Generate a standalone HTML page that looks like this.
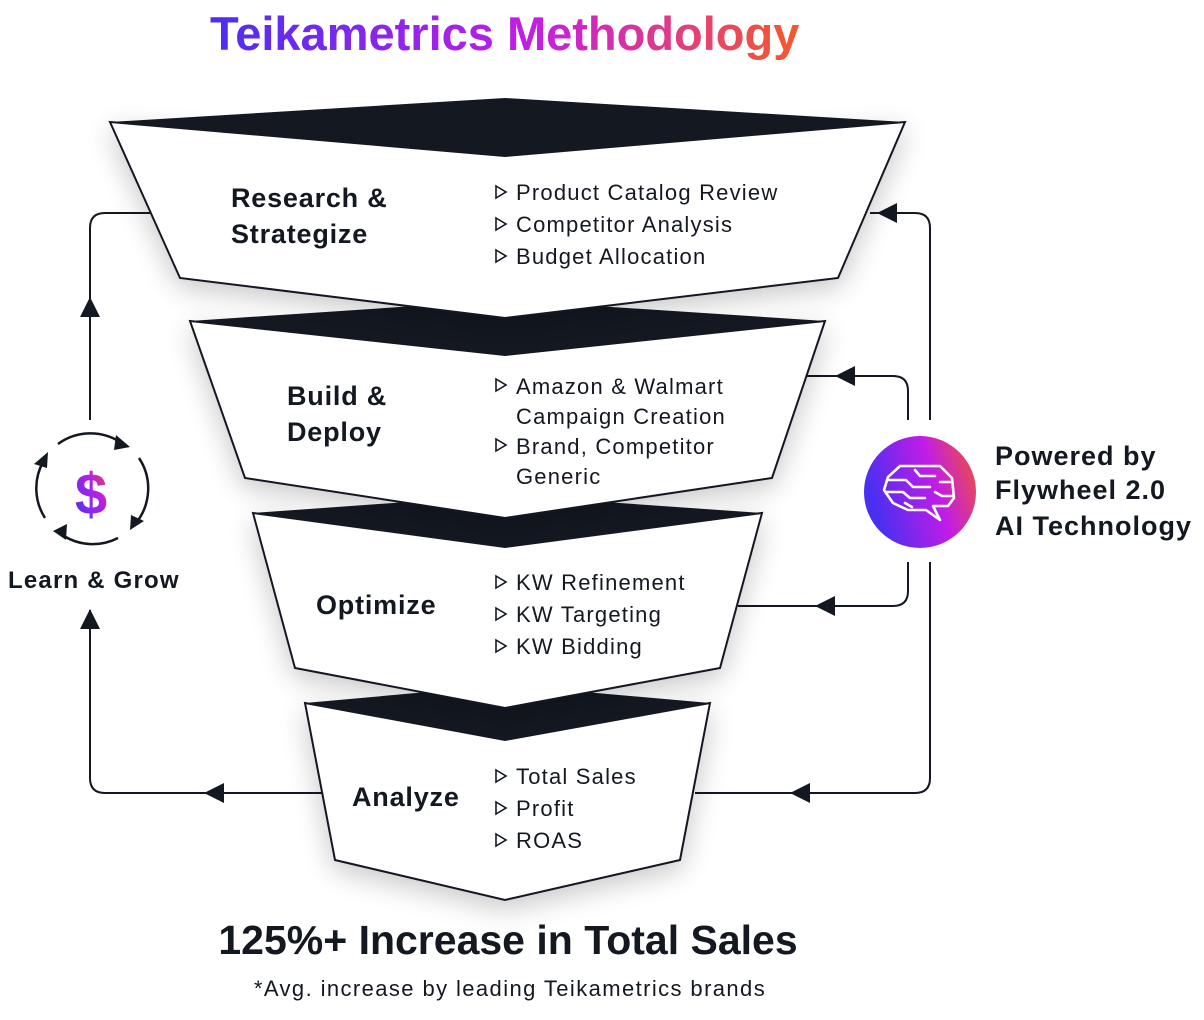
<!DOCTYPE html>
<html><head><meta charset="utf-8"><style>
html,body{margin:0;padding:0;background:#fff;}
svg{display:block;}
text{font-family:"Liberation Sans",sans-serif;fill:#131821;}
.h{font-weight:bold;font-size:27px;letter-spacing:0.8px;}
.b{font-size:22px;letter-spacing:1.2px;}
</style></head><body>
<svg width="1204" height="1020" viewBox="0 0 1204 1020" xmlns="http://www.w3.org/2000/svg">
<defs>
<linearGradient id="tg" x1="0" x2="1" y1="0" y2="0">
<stop offset="0" stop-color="#4a2ff2"/><stop offset="0.55" stop-color="#c51de6"/><stop offset="1" stop-color="#f6592a"/>
</linearGradient>
<linearGradient id="cg" x1="0" x2="1" y1="0.3" y2="0">
<stop offset="0" stop-color="#4b2ff0"/><stop offset="0.55" stop-color="#c21ce8"/><stop offset="1" stop-color="#f3552e"/>
</linearGradient>
<linearGradient id="dg" x1="0" x2="1" y1="1" y2="0">
<stop offset="0" stop-color="#3f36f0"/><stop offset="0.6" stop-color="#b41fe8"/><stop offset="1" stop-color="#f4493a"/>
</linearGradient>
<filter id="sh" x="-20%" y="-20%" width="140%" height="160%"><feGaussianBlur in="SourceAlpha" stdDeviation="14"/><feOffset dy="8"/><feComponentTransfer><feFuncA type="linear" slope="0.22"/></feComponentTransfer><feMerge><feMergeNode/><feMergeNode in="SourceGraphic"/></feMerge></filter>
</defs>

<text x="210" y="50" style="font-weight:bold;font-size:47px;fill:url(#tg)">Teikametrics Methodology</text>

<g fill="none" stroke="#131821" stroke-width="2">
<path d="M150 213 H105 Q90 213 90 228 V420"/>
<path d="M325 793 H105 Q90 793 90 778 V610"/>
<path d="M930 420 V228 Q930 213 915 213 H870"/>
<path d="M908 420 V391 Q908 376 893 376 H805"/>
<path d="M908 562 V591 Q908 606 893 606 H738"/>
<path d="M930 562 V778 Q930 793 915 793 H695"/>
</g>
<g fill="#131821">
<polygon points="90,297 80,317 100,317"/>
<polygon points="90,609 80,629 100,629"/>
<polygon points="204,793 224,783 224,803"/>
<polygon points="877,213 897,203 897,223"/>
<polygon points="835,376 855,366 855,386"/>
<polygon points="815,606 835,596 835,616"/>
<polygon points="790,793 810,783 810,803"/>
</g>

<g filter="url(#sh)">
<polygon points="305,703 505,740 710,703 680,860 505,900 335,860" fill="#fff" stroke="#131821" stroke-width="2"/>
</g>
<polygon points="305,703 505,685 710,703 505,740" fill="#131821"/>
<g filter="url(#sh)">
<polygon points="253,513 505,547 762,513 720,668 505,708 295,668" fill="#fff" stroke="#131821" stroke-width="2"/>
</g>
<polygon points="253,513 505,495 762,513 505,547" fill="#131821"/>
<g filter="url(#sh)">
<polygon points="190,321 505,355 825,321 772,478 505,518 245,478" fill="#fff" stroke="#131821" stroke-width="2"/>
</g>
<polygon points="190,321 505,300 825,321 505,355" fill="#131821"/>
<g filter="url(#sh)">
<polygon points="110,122 505,156 905,122 838,278 505,318 180,278" fill="#fff" stroke="#131821" stroke-width="2"/>
</g>
<polygon points="110,122 505,98 905,122 505,156" fill="#131821"/>

<text class="h" x="231" y="207">Research &amp;</text>
<text class="h" x="231" y="243">Strategize</text>
<text class="b" x="516" y="200">Product Catalog Review</text>
<text class="b" x="516" y="232">Competitor Analysis</text>
<text class="b" x="516" y="264">Budget Allocation</text>
<text class="h" x="287" y="405">Build &amp;</text>
<text class="h" x="287" y="441">Deploy</text>
<text class="b" x="516" y="394">Amazon &amp; Walmart</text>
<text class="b" x="516" y="424">Campaign Creation</text>
<text class="b" x="516" y="454">Brand, Competitor</text>
<text class="b" x="516" y="484">Generic</text>
<text class="h" x="316" y="614">Optimize</text>
<text class="b" x="516" y="590">KW Refinement</text>
<text class="b" x="516" y="622">KW Targeting</text>
<text class="b" x="516" y="654">KW Bidding</text>
<text class="h" x="352" y="806">Analyze</text>
<text class="b" x="516" y="784">Total Sales</text>
<text class="b" x="516" y="816">Profit</text>
<text class="b" x="516" y="848">ROAS</text>
<g fill="none" stroke="#131821" stroke-width="1.6">
<polygon points="496,186 506,192 496,198"/><polygon points="496,218 506,224 496,230"/><polygon points="496,250 506,256 496,262"/>
<polygon points="496,379 506,385 496,391"/><polygon points="496,439 506,445 496,451"/>
<polygon points="496,576 506,582 496,588"/><polygon points="496,608 506,614 496,620"/><polygon points="496,640 506,646 496,652"/>
<polygon points="496,770 506,776 496,782"/><polygon points="496,802 506,808 496,814"/><polygon points="496,834 506,840 496,846"/>
</g>

<g fill="none" stroke="#131821" stroke-width="2.5">
<path d="M58 444 A55 55 0 0 1 120 442"/>
<path d="M139 458 A55 55 0 0 1 136 523"/>
<path d="M118 538 A55 55 0 0 1 64 536"/>
<path d="M45 518 A55 55 0 0 1 43 462"/>
</g>
<g fill="#131821">
<polygon points="130,447 116,435 114,450"/>
<polygon points="130,530 131,515 144,521"/>
<polygon points="53,531 67,524 66,540"/>
<polygon points="48,452 47,468 34,464"/>
</g>
<text x="91" y="514" text-anchor="middle" style="font-weight:bold;font-size:58px;fill:url(#dg)">$</text>
<text x="8" y="588" style="font-weight:bold;font-size:24px;letter-spacing:1.2px">Learn &amp; Grow</text>

<circle cx="920" cy="492" r="56" fill="url(#cg)"/>
<g fill="none" stroke="#fff" stroke-width="2.6" stroke-linejoin="round" stroke-linecap="round">
<path d="M888 477 L900 466 L940 466 L952 478 L954 498 L948 506 L933 506 L940 520 L926 510 L908 510 L893 503 L884 490 Z"/>
<path d="M888 480 H906 L913 487 H930"/>
<path d="M886 492 H903 L910 498 H925"/>
<path d="M915 470 L920 476 H935"/>
<path d="M940 482 H950"/>
<path d="M935 492 L942 496 H953"/>
<path d="M905 503 L912 507"/>
</g>
<text x="995" y="465" style="font-weight:bold;font-size:27px;letter-spacing:1px">Powered by</text>
<text x="995" y="499" style="font-weight:bold;font-size:27px;letter-spacing:1px">Flywheel 2.0</text>
<text x="995" y="535" style="font-weight:bold;font-size:27px;letter-spacing:1px">AI Technology</text>

<text x="508" y="954" text-anchor="middle" style="font-weight:bold;font-size:41px">125%+ Increase in Total Sales</text>
<text x="510" y="996" text-anchor="middle" style="font-size:22px;letter-spacing:1.4px">*Avg. increase by leading Teikametrics brands</text>
</svg>
</body></html>
